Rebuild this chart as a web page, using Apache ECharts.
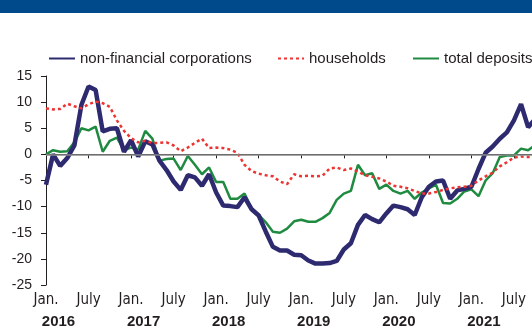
<!DOCTYPE html>
<html><head><meta charset="utf-8">
<script src="https://cdn.jsdelivr.net/npm/echarts@6/dist/echarts.min.js"></script>
<style>
html,body{margin:0;padding:0;overflow:hidden;background:#fff;width:532px;height:329px;position:relative}
#c{position:absolute;left:0;top:0;width:600px;height:329px}
#band{position:absolute;left:0;top:0;width:532px;height:13px;background:#004a8c;z-index:5}
</style>
</head><body><div id="c"></div><div id="band"></div>
<script>
// month categories Jan 2016 .. Jan 2022
const years = ['2016','2017','2018','2019','2020','2021','2022'];
const categories = [];
years.forEach(function(y, i){
  const n = (i === years.length - 1) ? 1 : 12;
  for (let m = 1; m <= n; m++) categories.push(y + '-' + (m < 10 ? '0' + m : m));
});
const yearLabels = ['2016','2017','2018','2019','2020','2021'];
const monthTickLabels = ['Jan.','July'];
const yTicks = { min: -25, max: 15, step: 5 };

const nonFinancial = [-5.8,0,-2.2,-0.7,1.7,9.5,13,12.3,4.4,4.9,
  5.0,0.5,2.7,-0.4,2.5,1.9,-1.2,-3,-5.2,-6.8,
  -4.0,-4.4,-6,-3.8,-7.3,-9.8,-9.9,-10.1,-8.2,-10.5,
  -11.7,-14.8,-17.7,-18.4,-18.4,-19.2,-19.3,-20.3,-20.9,-20.9,
  -20.8,-20.4,-18.2,-17,-13.5,-11.6,-12.4,-13,-11.3,-9.8,
  -10.1,-10.5,-11.6,-8.2,-6.2,-5.2,-5,-8.5,-6.9,-6.6,
  -6.2,-2.8,0.3,1.5,3.0,4.2,6.5,9.6,5.2,6.8];
const households = [8.8,8.6,8.7,9.7,9.2,8.8,9.6,10.1,9.8,9.1,
  6.5,4.5,3.1,2.3,2.6,2.2,2.2,2.3,1.7,0.6,
  1.3,2.2,3.0,1.2,1.3,1.2,0.9,0.3,-2,-3.2,
  -3.7,-4,-4.2,-5.2,-5.7,-3.8,-4.2,-4.1,-4.2,-4.1,
  -2.7,-2.5,-3.0,-2.7,-3.3,-4,-4.3,-4.6,-5.2,-6,
  -6.2,-6.5,-7.0,-7.5,-7.5,-7.2,-6.8,-6.5,-6.3,-6.2,
  -6,-5,-4.2,-3.5,-2.3,-1.5,-0.6,-0.4,-0.5,-0.5];
const totalDeposits = [0,0.8,0.5,0.6,2.3,5,4.6,5.3,0.5,2.6,
  3.2,0.8,1.3,0.9,4.5,3,-1.2,-0.9,-0.8,-3,
  -0.3,-2,-3.8,-2.5,-5.3,-5.3,-8.5,-8.5,-7.5,-10.4,
  -11.6,-13,-14.8,-15,-14.2,-12.8,-12.5,-12.9,-12.9,-12.2,
  -11.2,-8.7,-7.5,-7,-2,-4,-3.6,-6.6,-5.8,-7,
  -7.5,-7,-8.5,-7.3,-6.5,-5.8,-9.3,-9.4,-8.5,-7.1,
  -6.7,-8,-5,-3.6,-0.5,-0.2,-0.2,1.1,0.8,1.8];

const names = ['non-financial corporations','households','total deposits'];
const colors = { nfc:'#2e2a70', hh:'#ee3333', td:'#1f8b40' };
const txt = '#231f20';
const font = '"Liberation Sans", Arial, sans-serif';
const narrow = '"Liberation Sans Narrow", "DejaVu Sans Condensed", sans-serif';

const chart = echarts.init(document.getElementById('c'), null, {renderer:'canvas'});
function legendAt(name, left){
  return { data:[name], left:left, top:46, itemWidth:26, itemHeight:14, itemGap:0,
    itemStyle:{ opacity:0 },
    textStyle:{ color:txt, fontSize:15, fontFamily:font } };
}
chart.setOption({
  animation:false,
  backgroundColor:'#fff',
  legend:[ legendAt(names[0], 43), legendAt(names[1], 272), legendAt(names[2], 407) ],
  grid:{ left:46, top:76, height:212, width:510.5 },
  xAxis:[{
    type:'category', data:categories, boundaryGap:false,
    axisLine:{ lineStyle:{ color:txt, width:1 } },
    axisTick:{ interval:function(i){ return i % 6 === 0; }, length:4, lineStyle:{ color:txt } },
    axisLabel:{ interval:function(i){ return i % 6 === 0; },
      formatter:function(v, i){ return i % 12 === 0 ? monthTickLabels[0] : monthTickLabels[1]; },
      color:txt, fontSize:15, fontFamily:narrow, margin:8 },
    splitLine:{ show:false }
  },{
    type:'category', data:categories, boundaryGap:false, position:'bottom', offset:23,
    axisLine:{ show:false }, axisTick:{ show:false }, splitLine:{ show:false },
    axisLabel:{ interval:function(i){ return i % 12 === 0; },
      formatter:function(v, i){ const y = yearLabels[Math.round(i/12)]; return y ? '{y|' + y + '}' : ''; },
      margin:6,
      rich:{ y:{ fontSize:15, fontWeight:'bold', color:txt, fontFamily:font, padding:[0,0,0,25] } } }
  }],
  yAxis:{
    type:'value', min:yTicks.min, max:yTicks.max, interval:yTicks.step,
    axisLine:{ show:true, lineStyle:{ color:txt, width:1 } },
    axisTick:{ show:true, length:5, lineStyle:{ color:txt } },
    axisLabel:{ color:txt, fontSize:14, fontFamily:font, margin:14 },
    splitLine:{ show:false }
  },
  series:[
    { name:names[2], type:'line', data:totalDeposits, symbol:'none', z:2,
      lineStyle:{ color:colors.td, width:2.5 }, itemStyle:{ color:colors.td },
      markLine:{ silent:true, symbol:['none','none'], label:{ show:false },
        lineStyle:{ color:'#8a8a8a', type:'solid', width:1.5 }, data:[{ yAxis:0 }] } },
    { name:names[0], type:'line', data:nonFinancial, symbol:'none', z:3,
      lineStyle:{ color:colors.nfc, width:4.5 }, itemStyle:{ color:colors.nfc } },
    { name:names[1], type:'line', data:households, symbol:'none', z:4,
      lineStyle:{ color:colors.hh, width:2.5, type:[3,3] }, itemStyle:{ color:colors.hh } }
  ]
});
</script>
</body></html>
